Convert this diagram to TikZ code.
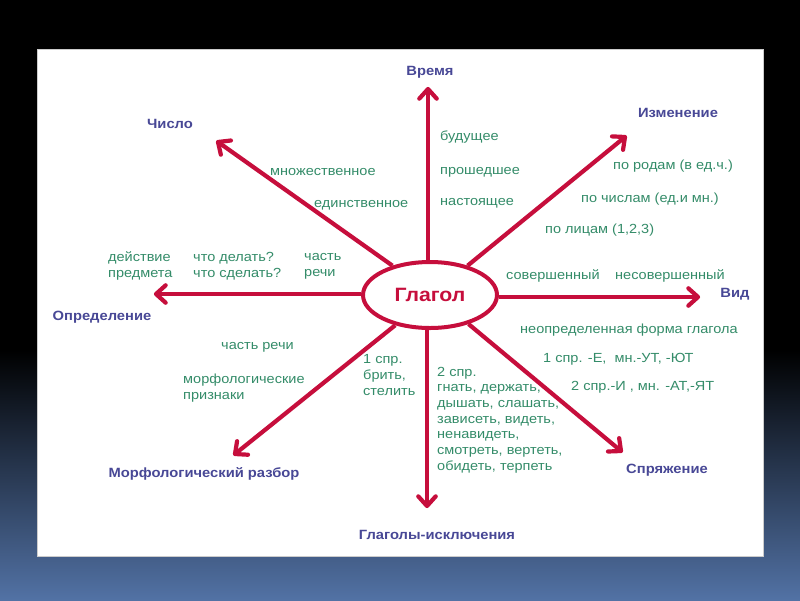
\documentclass[tikz,border=0pt]{standalone}
\usepackage{fontspec}
\setmainfont[FakeStretch=1.1]{Liberation Sans}
\usetikzlibrary{shapes.geometric,calc}
\definecolor{spoke}{RGB}{198,14,60}
\definecolor{grn}{RGB}{52,140,105}
\definecolor{lbl}{RGB}{72,72,150}
\definecolor{bgblue}{RGB}{82,114,165}
\tikzset{
  spokeline/.style={draw=spoke, line width=4.2pt},
  tipline/.style={draw=spoke, line width=4.2pt, line cap=round, line join=round},
  gtext/.style={text=grn, font=\fontsize{13.2}{15.7}\selectfont, inner sep=0pt, align=left},
  blabel/.style={text=lbl, font=\fontsize{13.4}{15}\selectfont\bfseries, inner sep=0pt},
  center/.style={ellipse, draw=spoke, line width=4pt, minimum width=134pt, minimum height=66pt, inner sep=0pt, fill=white,
    text=spoke, font=\fontsize{19.3}{22}\selectfont\bfseries}
}
\newcommand\spokeTo[2]{%
  \draw[spokeline] (#1) -- (#2);
  \draw[tipline] ($(#2)!13pt!42:(#1)$) -- (#2) -- ($(#2)!13pt!-42:(#1)$);
}
\begin{document}
\begin{tikzpicture}[x=1pt,y=-1pt]
\useasboundingbox (0,0) rectangle (800,600);
\fill[black] (0,0) rectangle (800,600);
\shade[top color=black, bottom color=bgblue] (0,350) rectangle (800,600);
\fill[white] (37,49) rectangle (763,556);
\draw[gray!40, line width=0.6pt] (37,49) rectangle (763,556);

\node[center] (g) at (430,295) {Глагол};

\coordinate (tN) at (428,89);
\coordinate (tNE) at (625,137);
\coordinate (tE) at (698,297);
\coordinate (tSE) at (621,451);
\coordinate (tS) at (427,506);
\coordinate (tSW) at (235,454);
\coordinate (tW) at (156,294);
\coordinate (tNW) at (218,142);

\coordinate (sN) at (tN |- g.north);
\coordinate (sS) at (tS |- g.south);
\coordinate (sE) at (g.east |- tE);
\coordinate (sW) at (g.west |- tW);
\coordinate (sNE) at (g.38);
\coordinate (sSE) at (g.-37);
\coordinate (sSW) at (g.-139);
\coordinate (sNW) at (g.142);

\spokeTo{sN}{tN}
\spokeTo{sS}{tS}
\spokeTo{sE}{tE}
\spokeTo{sW}{tW}
\spokeTo{sNE}{tNE}
\spokeTo{sSE}{tSE}
\spokeTo{sSW}{tSW}
\spokeTo{sNW}{tNW}

% category labels
\node[blabel] (lN) at (430,72) {Время};
\node[blabel] (lNE) at (678,113) {Изменение};
\node[blabel] (lE) at (735,294) {Вид};
\node[blabel] (lSE) at (667,470) {Спряжение};
\node[blabel] (lS) at (437,535) {Глаголы-исключения};
\node[blabel] (lSW) at (204,474) {Морфологический разбор};
\node[blabel] (lW) at (102,317) {Определение};
\node[blabel] (lNW) at (170,124) {Число};

% green texts
\node[gtext, anchor=west] (a1) at (440,137) {будущее};
\node[gtext, anchor=west] (a2) at (440,172) {прошедшее};
\node[gtext, anchor=west] (a3) at (440,203) {настоящее};
\node[gtext, anchor=west] (b1) at (270,172) {множественное};
\node[gtext, anchor=west] (b2) at (314,205) {единственное};
\node[gtext, anchor=west] (c1) at (108,266) {действие\\предмета};
\node[gtext, anchor=west] (c2) at (193,266) {что делать?\\что сделать?};
\node[gtext, anchor=west] (c3) at (304,266) {часть\\речи};
\node[gtext, anchor=west] (d1) at (613,166) {по родам (в ед.ч.)};
\node[gtext, anchor=west] (d2) at (581,199) {по числам (ед.и мн.)};
\node[gtext, anchor=west] (d3) at (545,230) {по лицам (1,2,3)};
\node[gtext, anchor=west] (e1) at (506,276) {совершенный};
\node[gtext, anchor=west] (e2) at (615,276) {несовершенный};
\node[gtext, anchor=west] (f1) at (520,330) {неопределенная форма глагола};
\node[gtext, anchor=west] (f2) at (543,359) {1 спр. -Е,\ \ мн.-УТ, -ЮТ};
\node[gtext, anchor=west] (f3) at (571,387) {2 спр.-И , мн. -АТ,-ЯТ};
\node[gtext, anchor=west] (h1) at (363,375) {1 спр.\\брить,\\стелить};
\node[gtext, anchor=west] (h2) at (437,420) {2 спр.\\гнать, держать,\\дышать, слашать,\\зависеть, видеть,\\ненавидеть,\\смотреть, вертеть,\\обидеть, терпеть};
\node[gtext, anchor=west] (m1) at (221,347) {часть речи};
\node[gtext, anchor=west] (m2) at (183,388) {морфологические\\признаки};
\end{tikzpicture}
\end{document}
